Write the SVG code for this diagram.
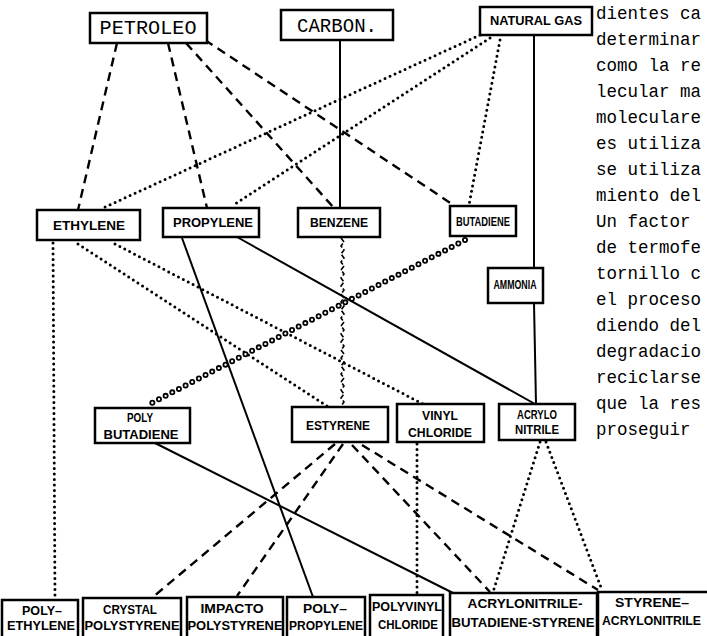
<svg xmlns="http://www.w3.org/2000/svg" width="707" height="636" viewBox="0 0 707 636">
<style>
.box{fill:#fff;stroke:#000;stroke-width:2.5}
.lb{font-family:"Liberation Sans",Arial,sans-serif;font-weight:bold;font-size:12px;text-anchor:middle;fill:#000}
.tw{font-family:"Liberation Mono","Courier New",monospace;font-size:20px;text-anchor:middle;fill:#000}
.col{font-family:"Liberation Mono","Courier New",monospace;font-size:17.5px;fill:#000}
.dash{fill:none;stroke:#000;stroke-width:2.4;stroke-dasharray:9 6}
.dot{fill:none;stroke:#000;stroke-width:3;stroke-dasharray:0 5.5;stroke-linecap:round}
.sol{fill:none;stroke:#000;stroke-width:2}
.ringb{fill:none;stroke:#000;stroke-width:6;stroke-dasharray:0 7.5;stroke-linecap:round}
.ringw{fill:none;stroke:#fff;stroke-width:2.4;stroke-dasharray:0 7.5;stroke-linecap:round}
.zig{fill:none;stroke:#000;stroke-width:1.6;stroke-dasharray:5 2}
</style>
<rect width="707" height="636" fill="#fff"/>
<g id="connectors">
  <path class="dash" d="M117 43 L78 210"/>
  <path class="dash" d="M168 43 L207 208"/>
  <path class="dash" d="M186 43 L334 208"/>
  <path class="dash" d="M205 40 L455 206"/>
  <path class="sol" d="M340 40 L340 208"/>
  <path class="sol" d="M534 35 L534 268"/>
  <path class="sol" d="M534 303 L536 404"/>
  <path class="dot" d="M480 35 L103 208"/>
  <path class="dot" d="M490 38 L232 206"/>
  <path class="dot" d="M500 40 L469 205"/>
  <path class="dot" d="M53 243 L55 600"/>
  <path class="dot" d="M78 244 L327 406"/>
  <path class="dot" d="M115 244 L423 404"/>
  <path class="sol" d="M182 238 L313 597"/>
  <path class="sol" d="M237 237 L535 404"/>
  <path class="zig" d="M341 238 l3 4 l-3 4 l3 4 l-3 4 l3 4 l-3 4 l3 4 l-3 4 l3 4 l-3 4 l3 4 l-3 4 l3 4 l-3 4 l3 4 l-3 4 l3 4 l-3 4 l3 4 l-3 4 l3 4 l-3 4 l3 4 l-3 4 l3 4 l-3 4 l3 4 l-3 4 l3 4 l-3 4 l3 4 l-3 4 l3 4 l-3 4 l3 4 l-3 4 l3 4 l-3 4 l3 4 l-3 4 l3 4 l-3 4"/>
  <path class="ringb" d="M465 240 L148 405"/>
  <path class="ringw" d="M465 240 L148 405"/>
  <path class="sol" d="M155 443 L453 593"/>
  <path class="dash" d="M335 444 L153 597"/>
  <path class="dash" d="M343 444 L237 596"/>
  <path class="dash" d="M352 445 L490 592"/>
  <path class="dash" d="M362 445 L598 590"/>
  <path class="dot" d="M417 444 L417 594"/>
  <path class="dot" d="M540 442 L493 592"/>
  <path class="dot" d="M546 442 L602 590"/>
</g>
<g id="petroleo"><rect class="box" x="90" y="13" width="117" height="30"/><text class="tw" x="148" y="34" textLength="97" lengthAdjust="spacingAndGlyphs">PETROLEO</text></g>
<g id="carbon"><rect class="box" x="281" y="10" width="112" height="30"/><text class="tw" x="337" y="32" textLength="80" lengthAdjust="spacingAndGlyphs">CARBON.</text></g>
<g id="natural-gas"><rect class="box" x="480" y="7" width="112" height="28"/><text class="lb" x="536" y="25" font-size="10.5" textLength="92" lengthAdjust="spacingAndGlyphs">NATURAL GAS</text></g>
<g id="ethylene"><rect class="box" x="37" y="210" width="103" height="30"/><text class="lb" x="89" y="230" textLength="72" lengthAdjust="spacingAndGlyphs">ETHYLENE</text></g>
<g id="propylene"><rect class="box" x="163" y="208" width="96" height="29"/><text class="lb" x="213" y="227" textLength="80" lengthAdjust="spacingAndGlyphs">PROPYLENE</text></g>
<g id="benzene"><rect class="box" x="298" y="208" width="82" height="29"/><text class="lb" x="339" y="227" textLength="58" lengthAdjust="spacingAndGlyphs">BENZENE</text></g>
<g id="butadiene"><rect class="box" x="450" y="206" width="66" height="30"/><text class="lb" x="483" y="226" font-size="11" textLength="54" lengthAdjust="spacingAndGlyphs">BUTADIENE</text></g>
<g id="ammonia"><rect class="box" x="488" y="268" width="55" height="35"/><text class="lb" x="515" y="289" font-size="10" textLength="43" lengthAdjust="spacingAndGlyphs">AMMONIA</text></g>
<g id="polybutadiene"><rect class="box" x="95" y="408" width="95" height="35"/><text class="lb" x="140" y="422" textLength="26" lengthAdjust="spacingAndGlyphs">POLY</text><text class="lb" x="141" y="439" textLength="75" lengthAdjust="spacingAndGlyphs">BUTADIENE</text></g>
<g id="estyrene"><rect class="box" x="292" y="407" width="96" height="35"/><text class="lb" x="338" y="430" textLength="64" lengthAdjust="spacingAndGlyphs">ESTYRENE</text></g>
<g id="vinyl-chloride"><rect class="box" x="397" y="404" width="87" height="38"/><text class="lb" x="440" y="420" textLength="36" lengthAdjust="spacingAndGlyphs">VINYL</text><text class="lb" x="440" y="437" textLength="64" lengthAdjust="spacingAndGlyphs">CHLORIDE</text></g>
<g id="acrylonitrile"><rect class="box" x="499" y="404" width="76" height="36"/><text class="lb" x="537" y="419" font-size="10" textLength="40" lengthAdjust="spacingAndGlyphs">ACRYLO</text><text class="lb" x="537" y="434" font-size="10" textLength="44" lengthAdjust="spacingAndGlyphs">NITRILE</text></g>
<g id="polyethylene"><rect class="box" x="2" y="600" width="76" height="50"/><text class="lb" x="42" y="615" textLength="40" lengthAdjust="spacingAndGlyphs">POLY–</text><text class="lb" x="41" y="630" textLength="68" lengthAdjust="spacingAndGlyphs">ETHYLENE</text></g>
<g id="crystal-polystyrene"><rect class="box" x="83" y="598" width="98" height="50"/><text class="lb" x="130" y="614" textLength="54" lengthAdjust="spacingAndGlyphs">CRYSTAL</text><text class="lb" x="132" y="630" textLength="95" lengthAdjust="spacingAndGlyphs">POLYSTYRENE</text></g>
<g id="impacto-polystyrene"><rect class="box" x="187" y="597" width="96" height="50"/><text class="lb" x="232" y="613" textLength="63" lengthAdjust="spacingAndGlyphs">IMPACTO</text><text class="lb" x="235" y="630" textLength="95" lengthAdjust="spacingAndGlyphs">POLYSTYRENE</text></g>
<g id="polypropylene"><rect class="box" x="287" y="597" width="78" height="50"/><text class="lb" x="325" y="613" textLength="44" lengthAdjust="spacingAndGlyphs">POLY–</text><text class="lb" x="326" y="630" textLength="74" lengthAdjust="spacingAndGlyphs">PROPYLENE</text></g>
<g id="polyvinyl-chloride"><rect class="box" x="370" y="595" width="73" height="50"/><text class="lb" x="407" y="611" textLength="70" lengthAdjust="spacingAndGlyphs">POLYVINYL</text><text class="lb" x="408" y="629" textLength="60" lengthAdjust="spacingAndGlyphs">CHLORIDE</text></g>
<g id="abs"><rect class="box" x="450" y="593" width="147" height="50"/><text class="lb" x="525" y="608" textLength="115" lengthAdjust="spacingAndGlyphs">ACRYLONITRILE-</text><text class="lb" x="523" y="627" textLength="143" lengthAdjust="spacingAndGlyphs">BUTADIENE-STYRENE</text></g>
<g id="san"><rect class="box" x="598" y="592" width="120" height="50"/><text class="lb" x="652" y="607" textLength="74" lengthAdjust="spacingAndGlyphs">STYRENE–</text><text class="lb" x="602" y="625" style="text-anchor:start" font-size="11" textLength="99" lengthAdjust="spacingAndGlyphs">ACRYLONITRILE</text></g>
<g id="page-text" class="col">
  <text x="596" y="19">dientes ca</text>
  <text x="596" y="45">determinar</text>
  <text x="596" y="71">como la re</text>
  <text x="596" y="97">lecular ma</text>
  <text x="596" y="123">moleculare</text>
  <text x="596" y="149">es utiliza</text>
  <text x="596" y="175">se utiliza</text>
  <text x="596" y="201">miento del</text>
  <text x="596" y="227">Un factor</text>
  <text x="596" y="253">de termofe</text>
  <text x="596" y="279">tornillo c</text>
  <text x="596" y="305">el proceso</text>
  <text x="596" y="331">diendo del</text>
  <text x="596" y="357">degradacio</text>
  <text x="596" y="383">reciclarse</text>
  <text x="596" y="409">que la res</text>
  <text x="596" y="435">proseguir</text>
</g>
</svg>
